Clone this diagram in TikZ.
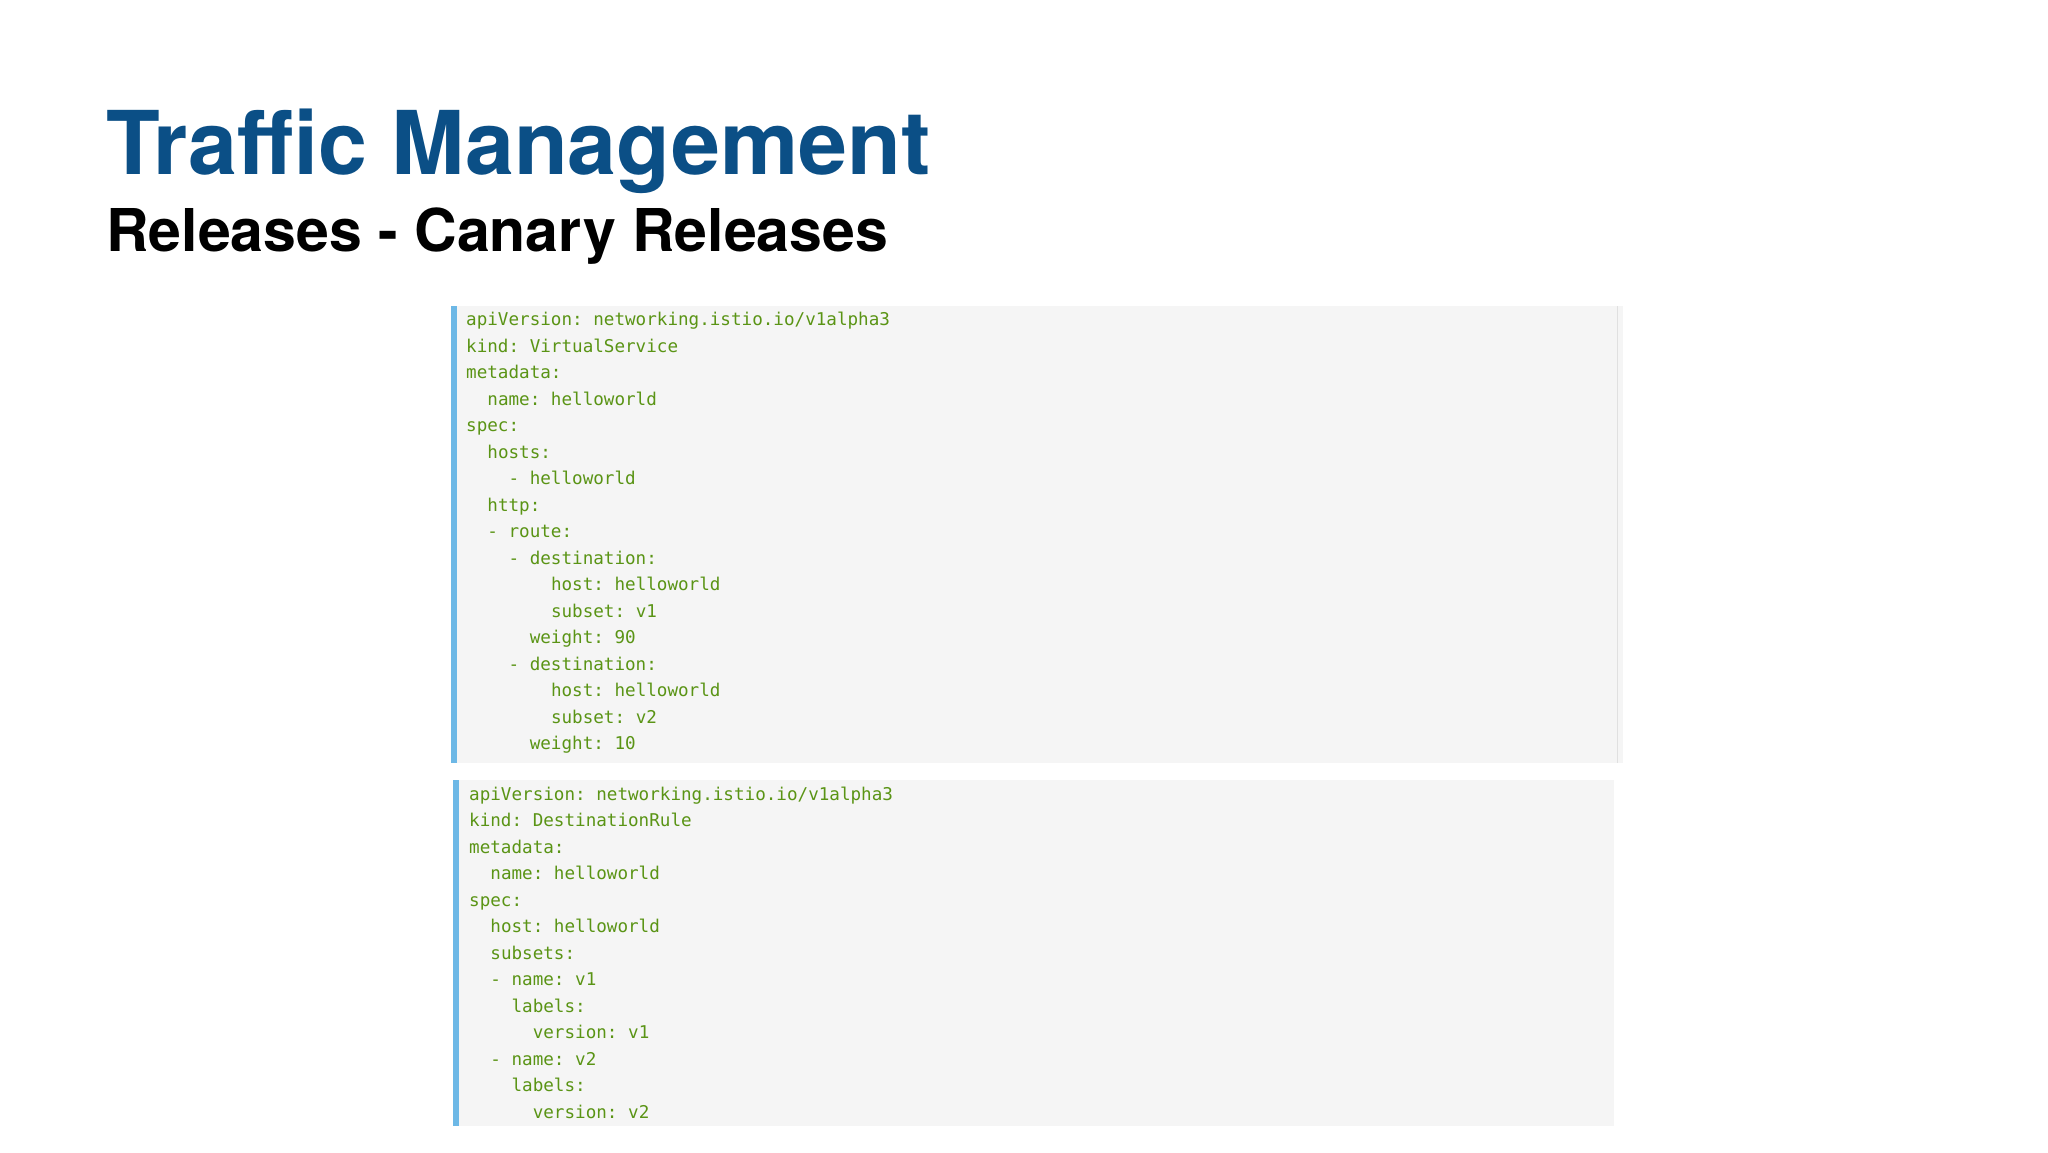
\documentclass[tikz,border=0pt]{standalone}
\usepackage{fontspec}
\setmainfont{TeX Gyre Heros}
\setmonofont{DejaVu Sans Mono}
\definecolor{titleblue}{HTML}{0B4F86}
\definecolor{codegreen}{HTML}{5A9415}
\definecolor{codebg}{HTML}{F5F5F5}
\definecolor{barblue}{HTML}{6DB8E6}
\tikzset{codeline/.style={anchor=base west,inner sep=0pt,text=codegreen,font=\ttfamily\fontsize{17.6}{20}\selectfont}}
\begin{document}
\begin{tikzpicture}[x=1pt,y=-1pt]
\useasboundingbox (0,0) rectangle (2048,1152);
\fill[white] (0,0) rectangle (2048,1152);
\node[anchor=base west,inner sep=0pt,text=titleblue,font=\bfseries\fontsize{88}{90}\selectfont] (title) at (106,174) {Traffic Management};
\node[anchor=base west,inner sep=0pt,font=\bfseries\fontsize{59}{62}\selectfont] (sub) at (106,251) {Releases - Canary Releases};
% box 1
\fill[codebg] (451,306) rectangle (1623,763);
\draw[black!12] (1617,306) -- (1617,763);
\fill[barblue] (451,306) rectangle (457,763);
\foreach \i/\ind/\txt in {0/0/{apiVersion: networking.istio.io/v1alpha3},1/0/{kind: VirtualService},2/0/{metadata:},3/2/{name: helloworld},4/0/{spec:},5/2/{hosts:},6/4/{- helloworld},7/2/{http:},8/2/{- route:},9/4/{- destination:},10/8/{host: helloworld},11/8/{subset: v1},12/6/{weight: 90},13/4/{- destination:},14/8/{host: helloworld},15/8/{subset: v2},16/6/{weight: 10}}
  \node[codeline] (a\i) at (466+\ind*10.6, 325.5+\i*26.5) {\txt};
% box 2
\fill[codebg] (453,780) rectangle (1614,1126);
\fill[barblue] (453,780) rectangle (459,1126);
\foreach \i/\ind/\txt in {0/0/{apiVersion: networking.istio.io/v1alpha3},1/0/{kind: DestinationRule},2/0/{metadata:},3/2/{name: helloworld},4/0/{spec:},5/2/{host: helloworld},6/2/{subsets:},7/2/{- name: v1},8/4/{labels:},9/6/{version: v1},10/2/{- name: v2},11/4/{labels:},12/6/{version: v2}}
  \node[codeline] (b\i) at (469+\ind*10.6, 800+\i*26.5) {\txt};
\end{tikzpicture}
\end{document}
